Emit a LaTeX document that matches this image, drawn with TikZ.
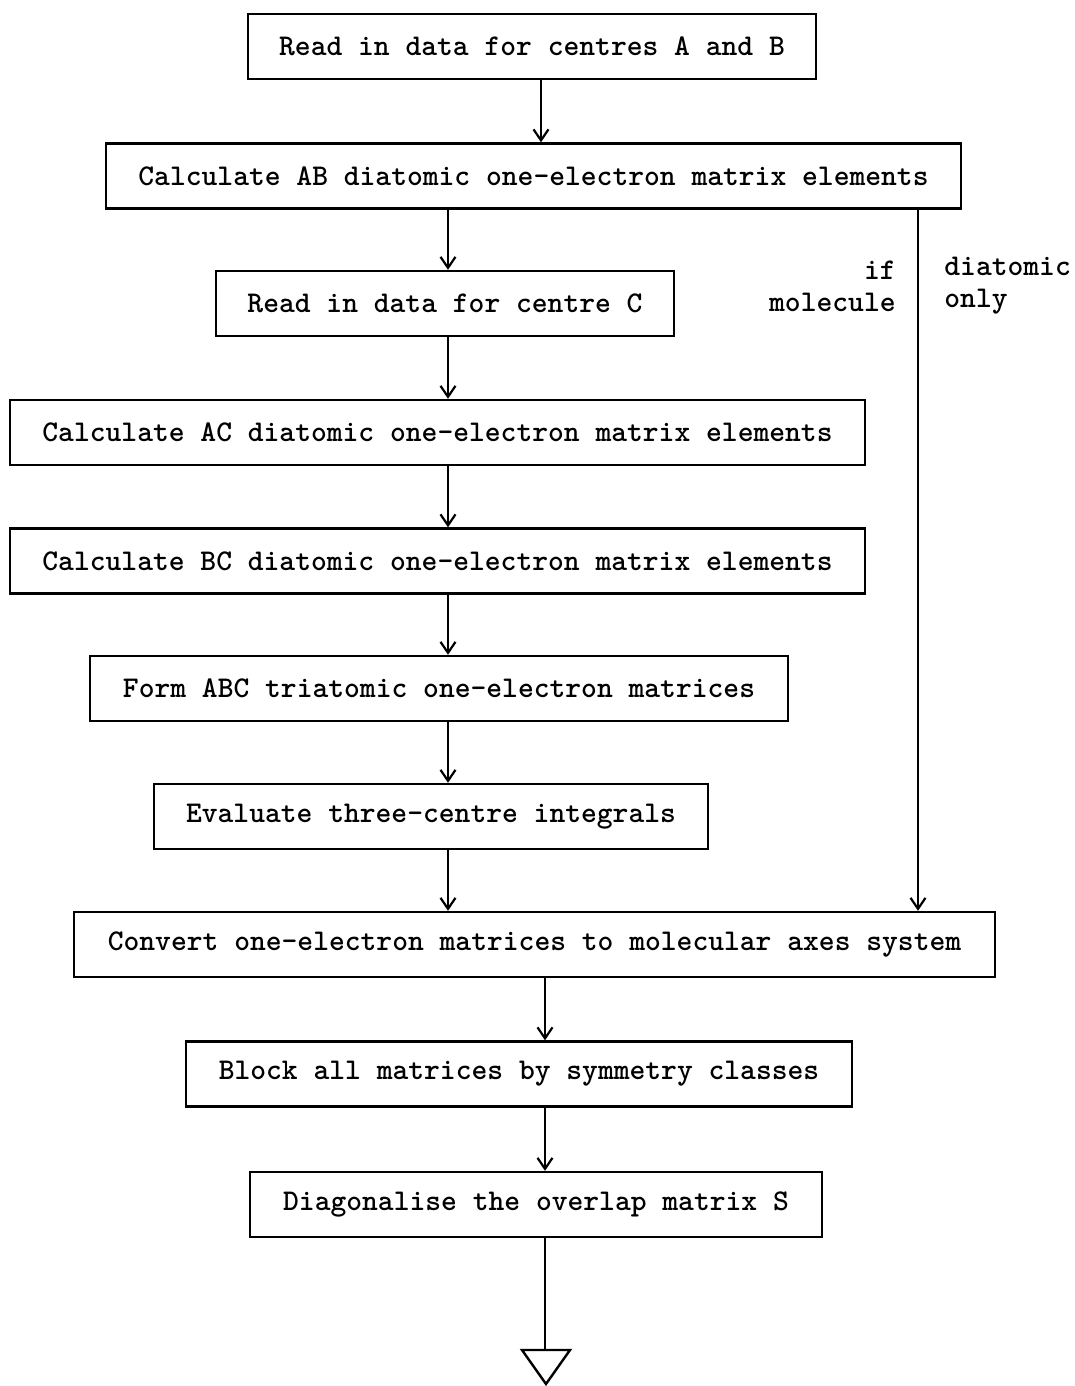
\documentclass[tikz,border=0pt]{standalone}
\usetikzlibrary{arrows.meta}
\begin{document}
\begin{tikzpicture}[x=0.5pt,y=-0.5pt,
  every node/.style={font=\ttfamily\bfseries\fontsize{15.05}{16}\selectfont, inner sep=0pt},
  stepbox/.style={draw, line width=1.2pt, minimum height=32.5pt},
  arr/.style={line width=1.1pt, -{Straight Barb[length=5.5pt,width=7.5pt,line width=1.1pt]}},
  conn/.style={line width=1.1pt}]
\useasboundingbox (0,0) rectangle (1075,1386);

% process steps
\node[stepbox, minimum width=284pt]   (rab)  at (532,46.5)   {Read in data for centres A and B};
\node[stepbox, minimum width=427.5pt] (cab)  at (533.5,176)  {Calculate AB diatomic one-electron matrix elements};
\node[stepbox, minimum width=229pt]   (rc)   at (445,303.5)  {Read in data for centre C};
\node[stepbox, minimum width=427.5pt] (cac)  at (437.5,432.5){Calculate AC diatomic one-electron matrix elements};
\node[stepbox, minimum width=427.5pt] (cbc)  at (437.5,561)  {Calculate BC diatomic one-electron matrix elements};
\node[stepbox, minimum width=349pt]   (abc)  at (439,688.5)  {Form ABC triatomic one-electron matrices};
\node[stepbox, minimum width=277pt]   (ev)   at (431,816.5)  {Evaluate three-centre integrals};
\node[stepbox, minimum width=460.5pt] (conv) at (534.5,944.5){Convert one-electron matrices to molecular axes system};
\node[stepbox, minimum width=333pt]   (blk)  at (519,1074)   {Block all matrices by symmetry classes};
\node[stepbox, minimum width=286pt]   (diag) at (536,1204.5) {Diagonalise the overlap matrix S};

% vertical guide positions for the connectors
\coordinate (xa) at (541,0);
\coordinate (xb) at (448,0);
\coordinate (xc) at (918,0);
\coordinate (xd) at (545,0);

\draw[arr] (xa |- rab.south) -- (xa |- cab.north);
\draw[arr] (xb |- cab.south) -- (xb |- rc.north);
\draw[arr] (xb |- rc.south)  -- (xb |- cac.north);
\draw[arr] (xb |- cac.south) -- (xb |- cbc.north);
\draw[arr] (xb |- cbc.south) -- (xb |- abc.north);
\draw[arr] (xb |- abc.south) -- (xb |- ev.north);
\draw[arr] (xb |- ev.south)  -- (xb |- conv.north);
\draw[arr] (xc |- cab.south) -- (xc |- conv.north);
\draw[arr] (xd |- conv.south) -- (xd |- blk.north);
\draw[arr] (xd |- blk.south)  -- (xd |- diag.north);

% branch labels
\node[anchor=east, align=right] (lm) at (896,286) {if\\molecule};
\node[anchor=west, align=left]  (ld) at (944,286) {diatomic\\only};

% continuation triangle
\coordinate (tt) at (545,1350);
\draw[conn] (xd |- diag.south) -- (tt);
\draw[line width=1.2pt, line join=miter] ([xshift=-11.5pt]tt) -- ([xshift=12.5pt]tt) -- ([xshift=0.5pt,yshift=-17pt]tt) -- cycle;
\end{tikzpicture}
\end{document}
